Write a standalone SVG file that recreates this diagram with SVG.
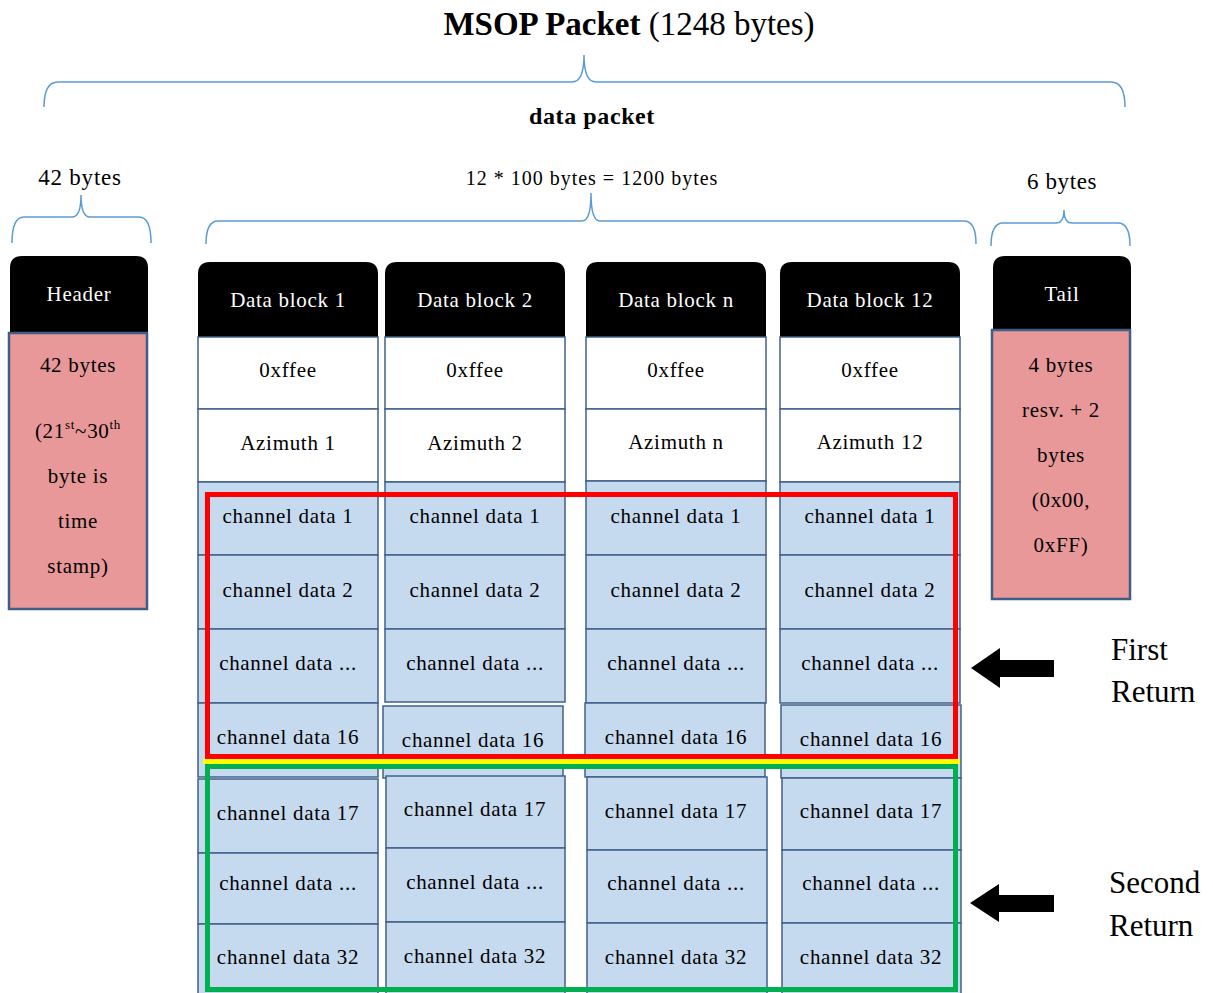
<svg xmlns="http://www.w3.org/2000/svg" width="1213" height="993" viewBox="0 0 1213 993">
<style>
text{font-family:"Liberation Serif","DejaVu Serif",serif;fill:#000}
.t{font-size:21px;letter-spacing:0.7px;text-anchor:middle}
.cell{fill:#c6daef;stroke:#41618a;stroke-width:1.5}
.wc{fill:#fff;stroke:#41618a;stroke-width:1.5}
.hd{fill:#000}
.pk{fill:#e99899;stroke:#3e5e85;stroke-width:2.5}
.br{fill:none;stroke:#5b9bd5;stroke-width:1.5}
.lbl{font-family:"Liberation Serif",serif;font-size:31px}
</style>
<g id="title">
<text x="629" y="35" style="font-size:33px;text-anchor:middle"><tspan font-weight="bold">MSOP Packet</tspan> (1248 bytes)</text>
<text x="592" y="124" style="font-size:24px;letter-spacing:0.6px;font-weight:bold;text-anchor:middle">data packet</text>
<text x="80" y="185" style="font-size:23px;letter-spacing:0.8px;text-anchor:middle">42 bytes</text>
<text x="592" y="185" style="font-size:20px;letter-spacing:1px;text-anchor:middle">12 * 100 bytes = 1200 bytes</text>
<text x="1062" y="189" style="font-size:23px;letter-spacing:0.6px;text-anchor:middle">6 bytes</text>
</g>
<g id="braces">
<path class="br" d="M44,107 Q44,82 58,82 H572 Q584,82 584,55 Q584,82 596,82 H1111 Q1125,82 1125,107"/>
<path class="br" d="M12,243 Q12,217 24,217 H72 Q81,217 81,195 Q81,217 90,217 H139 Q151,217 151,243"/>
<path class="br" d="M206,244 Q206,221 218,221 H582 Q591,221 591,193 Q591,221 600,221 H964 Q976,221 976,244"/>
<path class="br" d="M991,246 Q991,223 1003,223 H1056 Q1064,223 1064,210 Q1064,223 1072,223 H1118 Q1130,223 1130,246"/>
</g>
<g id="header">
<path class="hd" d="M10,333 V268 Q10,256 22,256 H136 Q148,256 148,268 V333 Z"/>
<text class="t" x="79" y="301" style="fill:#fff">Header</text>
<rect class="pk" x="9" y="333" width="138" height="276"/>
<text class="t" x="78" y="372">42 bytes</text>
<text class="t" x="78" y="438">(21<tspan font-size="13" dy="-9">st</tspan><tspan dy="9">~30</tspan><tspan font-size="13" dy="-9">th</tspan></text>
<text class="t" x="78" y="483">byte is</text>
<text class="t" x="78" y="528">time</text>
<text class="t" x="78" y="573">stamp)</text>
</g>
<g id="tail">
<path class="hd" d="M993,330 V268 Q993,256 1005,256 H1119 Q1131,256 1131,268 V330 Z"/>
<text class="t" x="1062" y="301" style="fill:#fff">Tail</text>
<rect class="pk" x="992" y="330" width="138" height="269"/>
<text class="t" x="1061" y="372">4 bytes</text>
<text class="t" x="1061" y="417">resv. + 2</text>
<text class="t" x="1061" y="462">bytes</text>
<text class="t" x="1061" y="507">(0x00,</text>
<text class="t" x="1061" y="552">0xFF)</text>
</g>
<g id="block1">
<path class="hd" d="M198,337 V274 Q198,262 210,262 H366 Q378,262 378,274 V337 Z"/>
<text class="t" x="288" y="307" style="fill:#fff">Data block 1</text>
<rect class="wc" x="198" y="337" width="180" height="72"/>
<text class="t" x="288" y="377">0xffee</text>
<rect class="wc" x="198" y="409" width="180" height="73"/>
<text class="t" x="288" y="450">Azimuth 1</text>
<rect class="cell" x="198" y="482" width="180" height="73"/>
<text class="t" x="288" y="523">channel data 1</text>
<rect class="cell" x="198" y="555" width="180" height="74"/>
<text class="t" x="288" y="597">channel data 2</text>
<rect class="cell" x="198" y="629" width="180" height="74"/>
<text class="t" x="288" y="670">channel data ...</text>
<rect class="cell" x="198" y="703" width="180" height="74"/>
<text class="t" x="288" y="744">channel data 16</text>
<rect class="cell" x="198" y="779" width="180" height="74"/>
<text class="t" x="288" y="820">channel data 17</text>
<rect class="cell" x="198" y="853" width="180" height="71"/>
<text class="t" x="288" y="890">channel data ...</text>
<rect class="cell" x="198" y="924" width="180" height="72"/>
<text class="t" x="288" y="964">channel data 32</text>
</g>
<g id="block2">
<path class="hd" d="M385,337 V274 Q385,262 397,262 H553 Q565,262 565,274 V337 Z"/>
<text class="t" x="475" y="307" style="fill:#fff">Data block 2</text>
<rect class="wc" x="385" y="337" width="180" height="72"/>
<text class="t" x="475" y="377">0xffee</text>
<rect class="wc" x="385" y="409" width="180" height="73"/>
<text class="t" x="475" y="450">Azimuth 2</text>
<rect class="cell" x="385" y="482" width="180" height="73"/>
<text class="t" x="475" y="523">channel data 1</text>
<rect class="cell" x="385" y="555" width="180" height="74"/>
<text class="t" x="475" y="597">channel data 2</text>
<rect class="cell" x="385" y="629" width="180" height="73"/>
<text class="t" x="475" y="670">channel data ...</text>
<rect class="cell" x="383" y="706" width="180" height="72"/>
<text class="t" x="473" y="747">channel data 16</text>
<rect class="cell" x="386" y="776" width="179" height="72"/>
<text class="t" x="475" y="816">channel data 17</text>
<rect class="cell" x="386" y="848" width="179" height="74"/>
<text class="t" x="475" y="889">channel data ...</text>
<rect class="cell" x="386" y="922" width="179" height="74"/>
<text class="t" x="475" y="963">channel data 32</text>
</g>
<g id="blockn">
<path class="hd" d="M586,337 V274 Q586,262 598,262 H754 Q766,262 766,274 V337 Z"/>
<text class="t" x="676" y="307" style="fill:#fff">Data block n</text>
<rect class="wc" x="586" y="337" width="180" height="72"/>
<text class="t" x="676" y="377">0xffee</text>
<rect class="wc" x="586" y="409" width="180" height="72"/>
<text class="t" x="676" y="449">Azimuth n</text>
<rect class="cell" x="586" y="481" width="180" height="74"/>
<text class="t" x="676" y="523">channel data 1</text>
<rect class="cell" x="586" y="555" width="180" height="74"/>
<text class="t" x="676" y="597">channel data 2</text>
<rect class="cell" x="586" y="629" width="180" height="74"/>
<text class="t" x="676" y="670">channel data ...</text>
<rect class="cell" x="585" y="703" width="180" height="74"/>
<text class="t" x="676" y="744">channel data 16</text>
<rect class="cell" x="587" y="777" width="180" height="73"/>
<text class="t" x="676" y="818">channel data 17</text>
<rect class="cell" x="587" y="850" width="180" height="73"/>
<text class="t" x="676" y="890">channel data ...</text>
<rect class="cell" x="587" y="923" width="180" height="73"/>
<text class="t" x="676" y="964">channel data 32</text>
</g>
<g id="block12">
<path class="hd" d="M780,337 V274 Q780,262 792,262 H948 Q960,262 960,274 V337 Z"/>
<text class="t" x="870" y="307" style="fill:#fff">Data block 12</text>
<rect class="wc" x="780" y="337" width="180" height="72"/>
<text class="t" x="870" y="377">0xffee</text>
<rect class="wc" x="780" y="409" width="180" height="73"/>
<text class="t" x="870" y="449">Azimuth 12</text>
<rect class="cell" x="780" y="482" width="180" height="73"/>
<text class="t" x="870" y="523">channel data 1</text>
<rect class="cell" x="780" y="555" width="180" height="74"/>
<text class="t" x="870" y="597">channel data 2</text>
<rect class="cell" x="780" y="629" width="180" height="74"/>
<text class="t" x="870" y="670">channel data ...</text>
<rect class="cell" x="781" y="705" width="180" height="73"/>
<text class="t" x="871" y="746">channel data 16</text>
<rect class="cell" x="782" y="778" width="179" height="72"/>
<text class="t" x="871" y="818">channel data 17</text>
<rect class="cell" x="782" y="850" width="179" height="73"/>
<text class="t" x="871" y="890">channel data ...</text>
<rect class="cell" x="782" y="923" width="179" height="73"/>
<text class="t" x="871" y="964">channel data 32</text>
</g>
<g id="returns">
<rect x="207.5" y="494.5" width="748" height="262" fill="none" stroke="#ff0000" stroke-width="5"/>
<line x1="203" y1="761.5" x2="960" y2="761.5" stroke="#ffff00" stroke-width="5"/>
<rect x="207.5" y="766.5" width="748" height="223" fill="none" stroke="#00b050" stroke-width="5"/>
</g>
<g id="connectors">
<polygon points="971,668 1000,648 1000,660 1054,660 1054,677 1000,677 1000,688" fill="#000"/>
<polygon points="970,903 999,884 999,895 1054,895 1054,912 999,912 999,922" fill="#000"/>
</g>
<g id="labels">
<text class="lbl" x="1111" y="660">First</text>
<text class="lbl" x="1111" y="702">Return</text>
<text class="lbl" x="1109" y="893">Second</text>
<text class="lbl" x="1109" y="936">Return</text>
</g>
</svg>
